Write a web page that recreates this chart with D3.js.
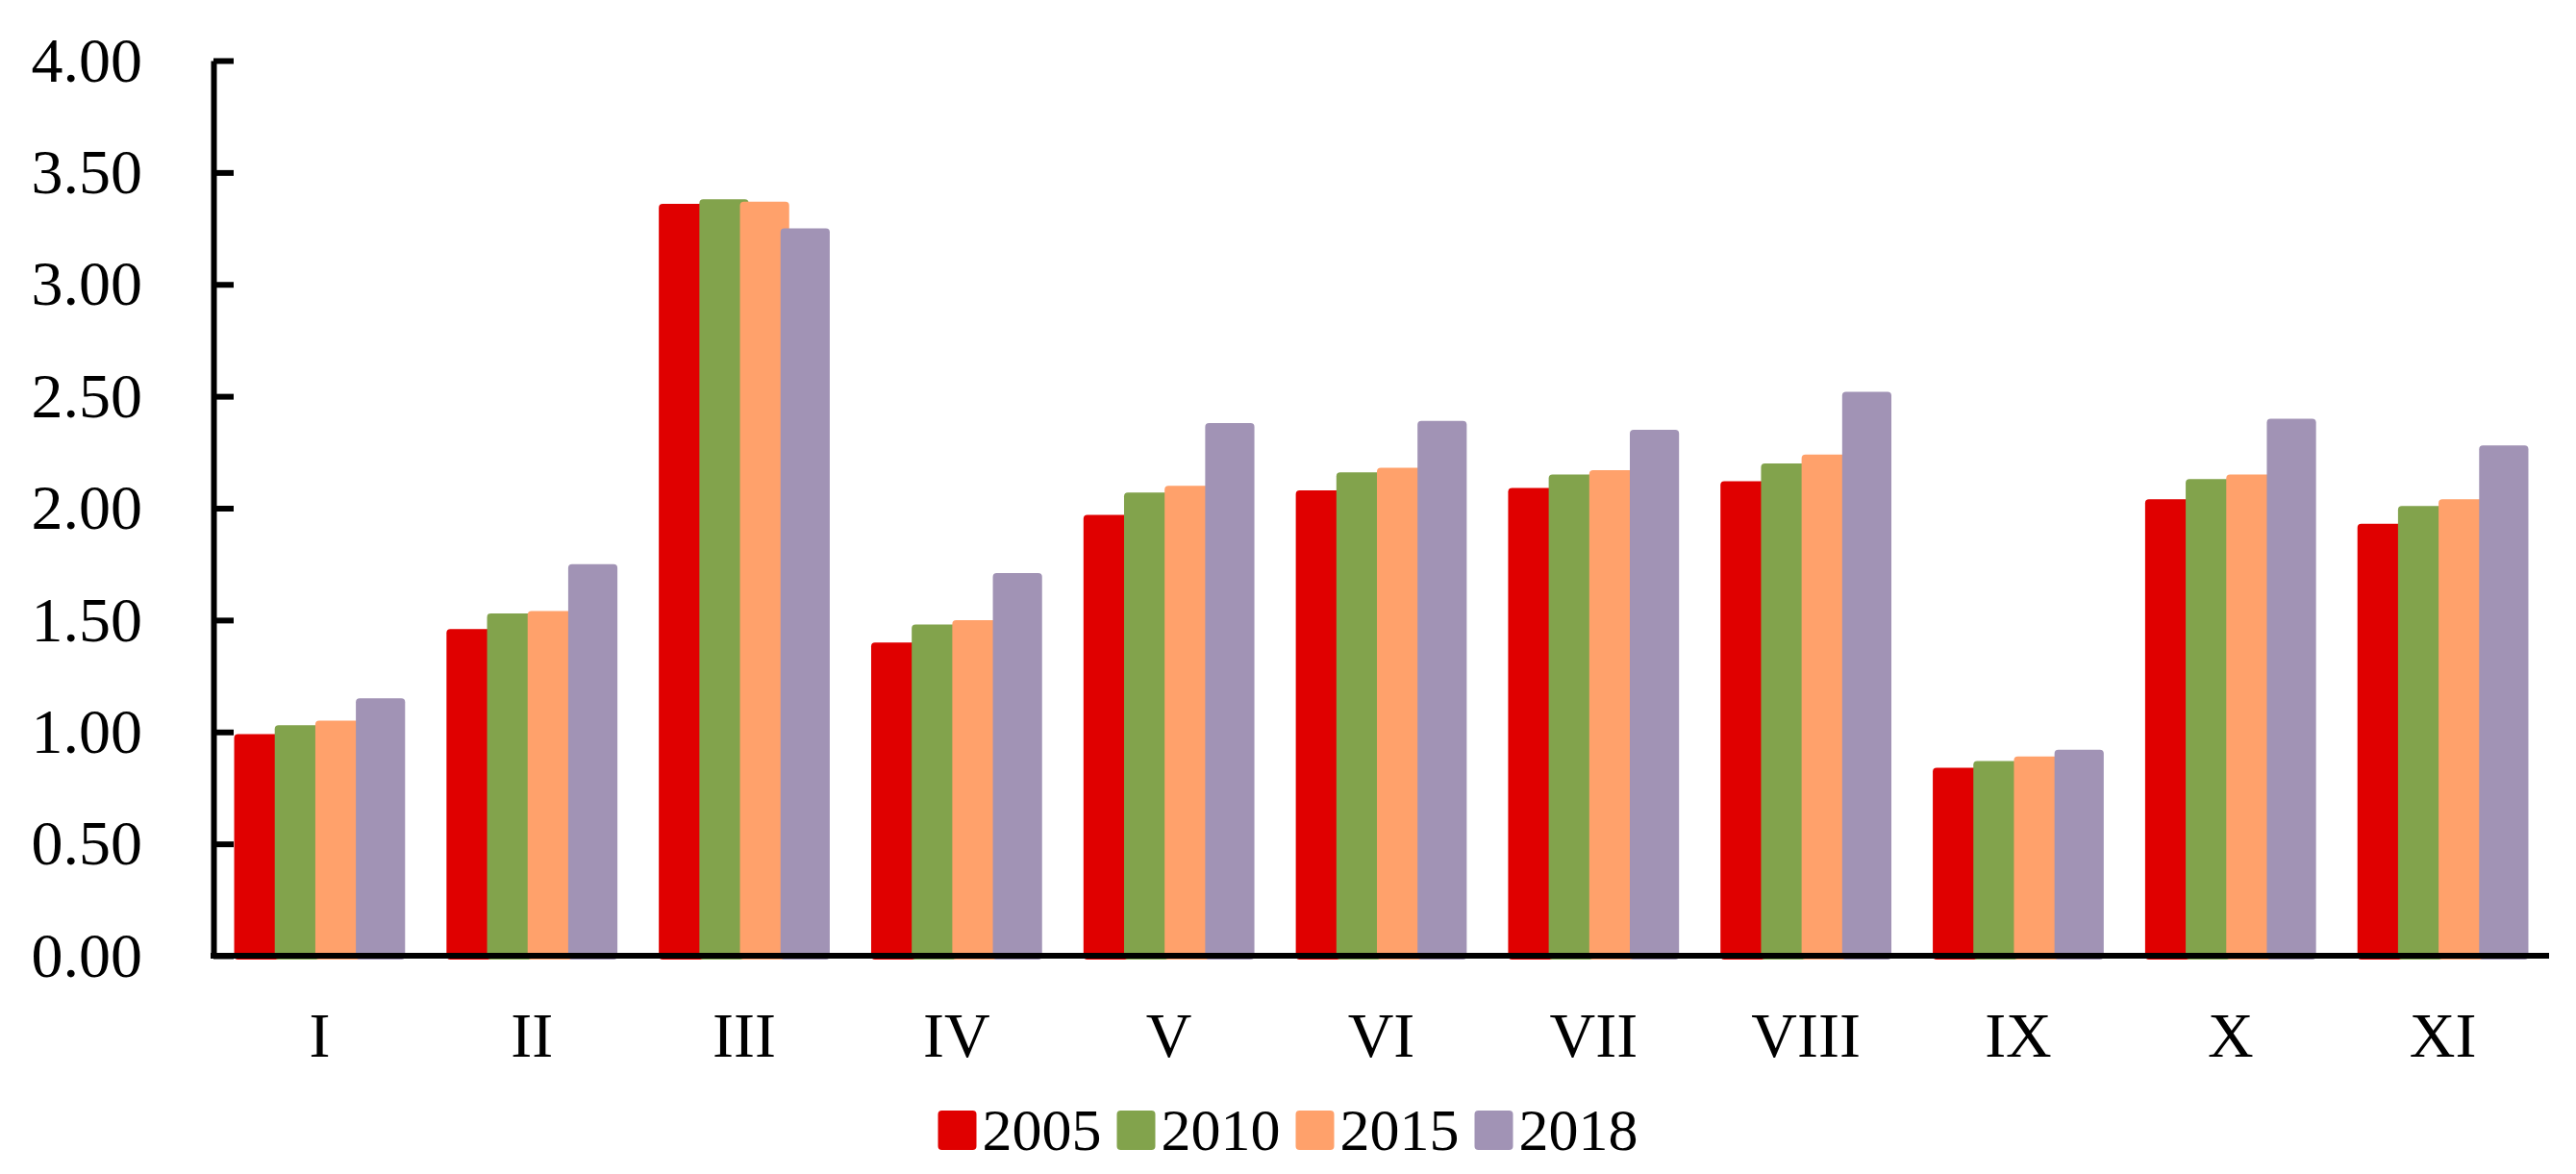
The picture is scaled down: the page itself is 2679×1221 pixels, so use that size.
<!DOCTYPE html>
<html>
<head>
<meta charset="utf-8">
<script src="https://cdn.jsdelivr.net/npm/d3@7"></script>
<style>
  body { margin: 0; background: #fff; }
  text { font-family: "Liberation Serif", "Times New Roman", serif; fill: #000; }
</style>
</head>
<body>
<div id="chart"></div>
<script>
// categories and series
const regions = ["I", "II", "III", "IV", "V", "VI", "VII", "VIII", "IX", "X", "XI"];
const years = ["2005", "2010", "2015", "2018"];
const v2005 = [0.99, 1.46, 3.36, 1.40, 1.97, 2.08, 2.09, 2.12, 0.84, 2.04, 1.93];
const v2010 = [1.03, 1.53, 3.38, 1.48, 2.07, 2.16, 2.15, 2.20, 0.87, 2.13, 2.01];
const v2015 = [1.05, 1.54, 3.37, 1.50, 2.10, 2.18, 2.17, 2.24, 0.89, 2.15, 2.04];
const v2018 = [1.15, 1.75, 3.25, 1.71, 2.38, 2.39, 2.35, 2.52, 0.92, 2.40, 2.28];
const yTicks = [0, 0.5, 1, 1.5, 2, 2.5, 3, 3.5, 4];
const colors = ["#e00000", "#82a34c", "#ffa16b", "#a193b5"];

const series = [v2005, v2010, v2015, v2018];

const width = 2679, height = 1221;
const margin = {top: 63, right: 28, bottom: 227, left: 222};
const innerW = width - margin.left - margin.right,
      innerH = height - margin.top - margin.bottom;

const svg = d3.select("#chart")
  .append("svg")
    .attr("width", width)
    .attr("height", height);

const g = svg.append("g")
    .attr("transform", `translate(${margin.left}, ${margin.top})`);

const x0 = d3.scaleBand()
    .domain(regions)
    .range([0, innerW])
    .paddingInner(0.195)
    .paddingOuter(0.0975);

// bars overlap a little, the later year drawn on top
const overlap = 9;
const x1 = d3.scaleBand()
    .domain(years)
    .range([0, x0.bandwidth() - overlap]);

const y = d3.scaleLinear()
    .domain([0, 4])
    .range([innerH, 0]);

// bars
years.forEach((yr, i) => {
  g.append("g")
    .selectAll("rect")
    .data(regions.map((r, j) => ({region: r, value: series[i][j]})))
    .join("rect")
      .attr("x", d => x0(d.region) + x1(yr))
      .attr("y", d => y(d.value))
      .attr("width", x1.bandwidth() + overlap)
      .attr("height", d => innerH - y(d.value) + 4)
      .attr("rx", 4)
      .attr("fill", colors[i]);
});

// y axis, ticks pointing inward
const yAxis = g.append("g")
    .call(d3.axisLeft(y)
      .tickValues(yTicks)
      .tickFormat(d3.format(".2f"))
      .tickSizeInner(-21)
      .tickSizeOuter(0)
      .tickPadding(74));
yAxis.select(".domain").attr("stroke", "#000").attr("stroke-width", 6);
yAxis.selectAll(".tick line").attr("stroke", "#000").attr("stroke-width", 6);
yAxis.selectAll(".tick text")
    .style("font-family", "'Liberation Serif', serif")
    .attr("font-size", 66);

// x axis, no ticks
const xAxis = g.append("g")
    .attr("transform", `translate(0, ${innerH})`)
    .call(d3.axisBottom(x0).tickSize(0).tickSizeOuter(0).tickPadding(58));
xAxis.select(".domain").attr("stroke", "#000").attr("stroke-width", 6)
    .attr("d", `M-3,0H${innerW}`);
xAxis.selectAll(".tick text")
    .style("font-family", "'Liberation Serif', serif")
    .attr("font-size", 66);

// legend
const itemStep = 186;
const legendX = width / 2 - (itemStep * 3 + 40 + 7 + 123) / 2;
const legend = svg.append("g")
    .attr("transform", `translate(${legendX}, 1155)`);
const item = legend.selectAll("g")
  .data(years)
  .join("g")
    .attr("transform", (d, i) => `translate(${i * itemStep}, 0)`);
item.append("rect")
    .attr("width", 40)
    .attr("height", 41)
    .attr("rx", 4)
    .attr("fill", (d, i) => colors[i]);
item.append("text")
    .attr("x", 46)
    .attr("y", 41)
    .attr("font-size", 62)
    .text(d => d);
</script>
</body>
</html>
